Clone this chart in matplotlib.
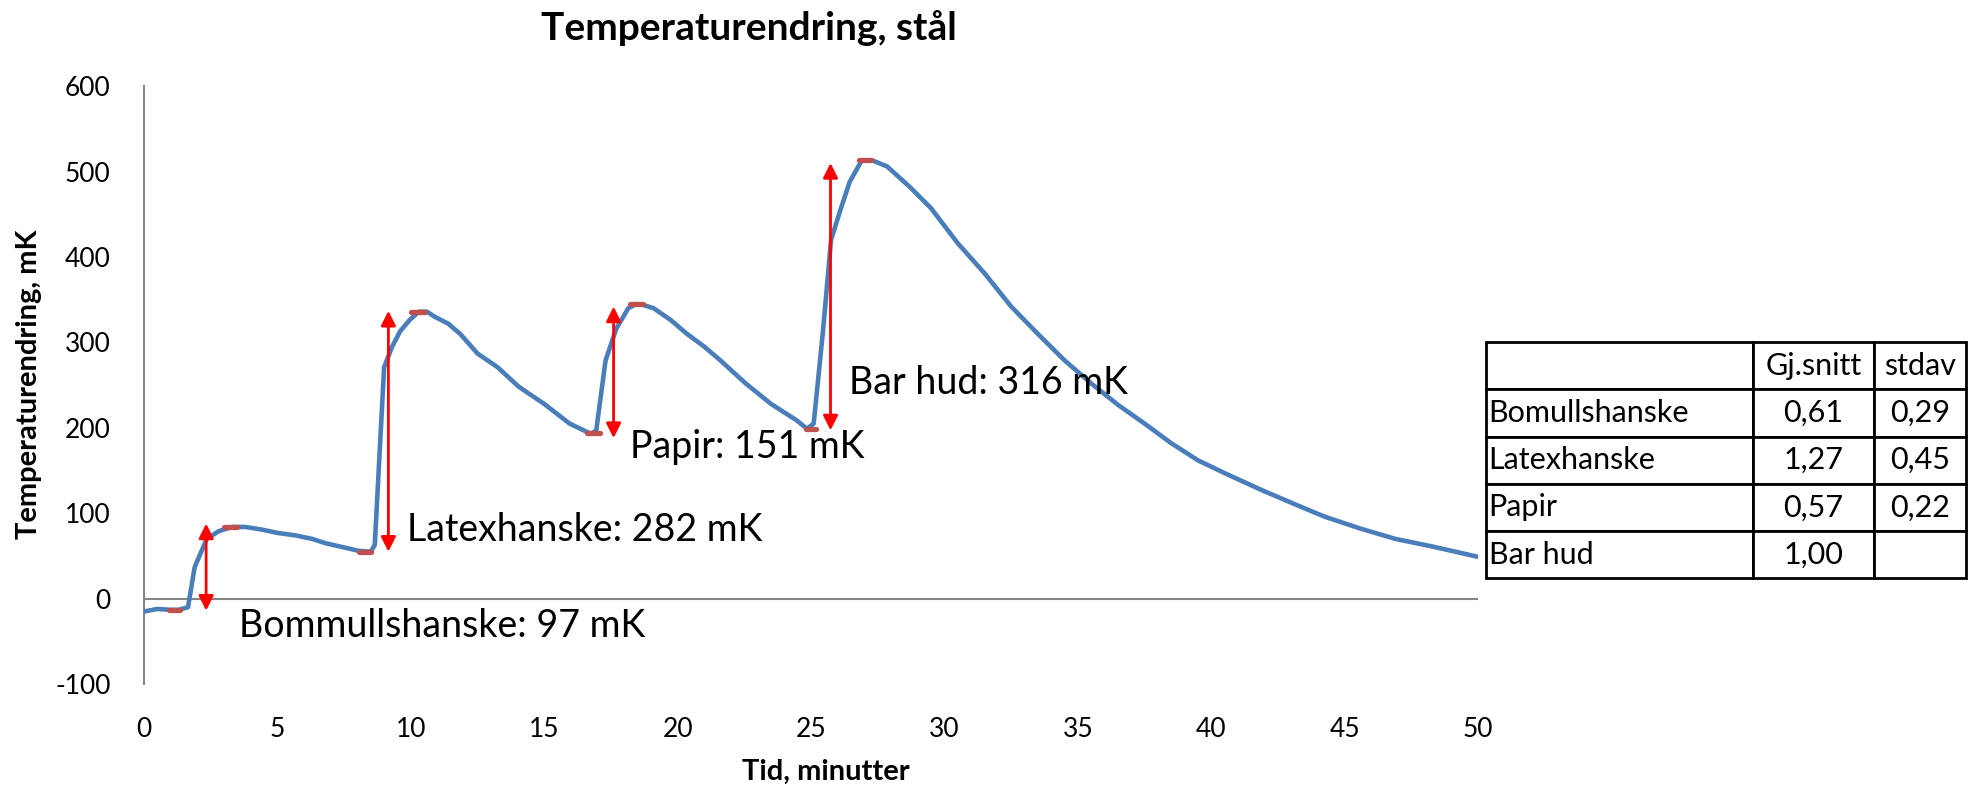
import matplotlib
matplotlib.use('Agg')
import matplotlib.pyplot as plt

plt.rcParams['font.family'] = ['Lato', 'DejaVu Sans']
plt.rcParams['axes.unicode_minus'] = False

# temperature curve
tid = [0, 0.5, 1.0, 1.3, 1.65, 1.9, 2.35, 2.8, 3.3, 3.8, 4.4, 5.0, 5.7, 6.3, 6.8, 7.5, 8.05, 8.5, 8.65,
       9.0, 9.3, 9.6, 9.95, 10.3, 10.6, 10.9, 11.4, 11.85, 12.5, 13.25, 14.05, 15.0, 15.95, 16.75, 16.95,
       17.3, 17.7, 18.15, 18.45, 18.7, 19.1, 19.75, 20.35, 21.0, 21.6, 22.55, 23.5, 24.45, 24.85, 25.1,
       25.45, 25.75, 26.1, 26.45, 26.9, 27.3, 27.85, 28.7, 29.5, 30.5, 31.5, 32.5, 33.5, 34.5, 35.5,
       36.5, 37.5, 38.5, 39.5, 40.5, 41.9, 43.1, 44.25, 45.6, 46.9, 48.3, 50]
temp = [-15, -12, -13, -13, -10, 37, 70, 79, 84, 84, 81, 77, 74, 70, 65, 60, 56, 55, 63,
        271, 295, 313, 326, 336, 336, 330, 322, 310, 287, 271, 248, 228, 205, 193, 197,
        279, 316, 340, 345, 344, 340, 326, 310, 295, 279, 252, 228, 209, 199, 205,
        314, 420, 455, 488, 513, 513, 506, 482, 457, 416, 381, 342, 310, 279, 252,
        227, 205, 182, 162, 147, 127, 111, 96, 82, 70, 61, 49]

# min/max markers: start, stop, value
mark_t0 = [0.95, 3.0, 8.05, 10.0, 16.6, 18.2, 24.8, 26.8]
mark_t1 = [1.35, 3.5, 8.5, 10.55, 17.1, 18.7, 25.2, 27.25]
mark_v = [-13, 84, 55, 336, 194, 345, 199, 513]

# double arrows
pil_t = [2.33, 9.16, 17.6, 25.73]
pil_lo = [-14, 55, 188, 197]
pil_hi = [88, 337, 342, 510]

etiketter = ['Bommullshanske: 97 mK', 'Latexhanske: 282 mK', 'Papir: 151 mK', 'Bar hud: 316 mK']
etikett_t = [3.56, 9.86, 18.2, 26.43]
etikett_v = [-32, 80, 178, 252]

# table
rader = ['Bomullshanske', 'Latexhanske', 'Papir', 'Bar hud']
gj_snitt = ['0,61', '1,27', '0,57', '1,00']
stdav = ['0,29', '0,45', '0,22', '']

fig = plt.figure(figsize=(19.75, 7.9), dpi=100)
ax = fig.add_axes([0.0729, 0.134, 0.6755, 0.757])

ax.plot(tid, temp, color='#4A7EBB', lw=3.3, zorder=3)
for a, b, v in zip(mark_t0, mark_t1, mark_v):
    ax.plot([a, b], [v, v], color='#C0504D', lw=3.8, solid_capstyle='round', zorder=4)
for t, lo, hi in zip(pil_t, pil_lo, pil_hi):
    ax.annotate('', xy=(t, hi), xytext=(t, lo),
                arrowprops=dict(arrowstyle='<|-|>', color='#FF0000', lw=2, mutation_scale=22,
                                shrinkA=0, shrinkB=0), zorder=5)
for s, t, v in zip(etiketter, etikett_t, etikett_v):
    ax.text(t, v, s, fontsize=27, va='center', ha='left')

ax.axhline(0, color='#868686', lw=1.5, zorder=1)
ax.set_xlim(0, 50)
ax.set_ylim(-100, 600)
ax.set_xticks(range(0, 51, 5))
ax.set_yticks(range(-100, 601, 100))
for sp in ['top', 'right', 'bottom']:
    ax.spines[sp].set_visible(False)
ax.spines['left'].set_color('#868686')
ax.spines['left'].set_linewidth(1.5)
ax.tick_params(axis='x', length=0, pad=24, labelsize=19)
ax.tick_params(axis='y', length=0, pad=24, labelsize=19)

fig.text(0.379, 0.965, 'Temperaturendring, stål', fontsize=28, fontweight='bold', ha='center', va='center')
fig.text(0.418, 0.023, 'Tid, minutter', fontsize=21, fontweight='bold', ha='center', va='center')
fig.text(0.0145, 0.514, 'Temperaturendring, mK', fontsize=21, fontweight='bold', ha='center', va='center',
         rotation=90)

tax = fig.add_axes([0, 0, 1, 1])
tax.axis('off')
celler = [['', 'Gj.snitt', 'stdav']] + [[r, g, s] for r, g, s in zip(rader, gj_snitt, stdav)]
tab = tax.table(cellText=celler, bbox=[0.7524, 0.268, 0.2430, 0.299],
                colWidths=[267, 121, 92])
tab.auto_set_font_size(False)
for (r, c), cell in tab.get_celld().items():
    cell.set_linewidth(2)
    cell.set_edgecolor('black')
    cell.get_text().set_fontsize(22)
    if c == 0:
        cell.get_text().set_ha('left')
        cell.PAD = 0.01
    else:
        cell.get_text().set_ha('center')

fig.savefig('out.png', dpi=100)
